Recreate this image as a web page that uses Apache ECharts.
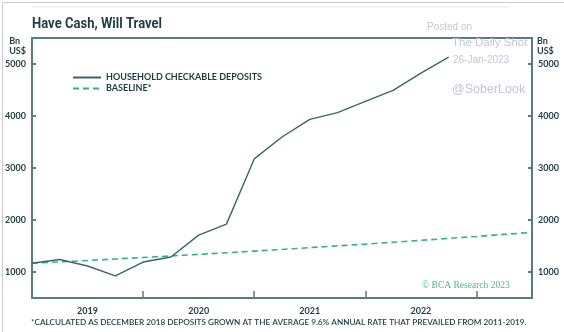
<!DOCTYPE html>
<html>
<head>
<meta charset="utf-8">
<script src="https://cdn.jsdelivr.net/npm/echarts@6/dist/echarts.min.js"></script>
<style>
  html, body { margin: 0; padding: 0; background: #ffffff; }
  #chart { width: 564px; height: 332px; }
</style>
</head>
<body>
<div id="chart"></div>
<script>
// Quarter-end observations, Dec 2018 through Jun 2023 (x = quarter index)
const quarters = ['2018Q4','2019Q1','2019Q2','2019Q3','2019Q4','2020Q1','2020Q2','2020Q3','2020Q4',
                  '2021Q1','2021Q2','2021Q3','2021Q4','2022Q1','2022Q2','2022Q3','2022Q4','2023Q1','2023Q2'];
// Household checkable deposits, Bn US$
const deposits = [1167, 1240, 1115, 925, 1192, 1288, 1710, 1921, 3175,
                  3596, 3936, 4065, 4281, 4493, 4825, 5132];
// Baseline: Dec 2018 deposits grown at 9.6% a year
const baseline = [1167, 1194, 1222, 1250, 1279, 1309, 1339, 1370, 1402,
                  1434, 1468, 1502, 1536, 1572, 1609, 1646, 1684, 1723, 1763];
const yearLabels = ['2019', '2020', '2021', '2022'];
const yTicks = [1000, 2000, 3000, 4000, 5000];

const INK = '#1d3c40';
const AXIS = '#587b7e';
const LINE = '#3a6568';
const GREEN = '#33b08a';
const WATER = '#c4c4d8';

const chart = echarts.init(document.getElementById('chart'), null, { renderer: 'canvas' });

const yAxisBase = {
  type: 'value', min: 500, max: 5500,
  axisLine: { show: false },
  splitLine: { show: false },
  axisTick: { show: true, inside: true, length: 4, customValues: yTicks,
              lineStyle: { color: AXIS, width: 2 } },
  axisLabel: { customValues: yTicks, formatter: v => String(v), color: INK,
               fontFamily: 'Lato', fontWeight: 'bold', fontSize: 9, margin: 6 }
};

chart.setOption({
  animation: false,
  backgroundColor: '#ffffff',
  legend: {
    orient: 'vertical', left: 67, top: 68, itemWidth: 28, itemHeight: 10, itemGap: 2,
    itemStyle: { opacity: 0 },
    textStyle: { color: INK, fontFamily: 'Lato', fontWeight: 'bold', fontSize: 9 },
    data: [
      { name: 'HOUSEHOLD CHECKABLE DEPOSITS' },
      { name: 'BASELINE*' }
    ]
  },
  grid: { left: 32, right: 32, top: 38, bottom: 34, show: true,
          borderColor: AXIS, borderWidth: 2, backgroundColor: 'transparent' },
  xAxis: {
    type: 'value', min: 0, max: 18, interval: 4,
    axisLine: { show: false },
    splitLine: { show: false },
    axisTick: { show: true, inside: true, length: 7, lineStyle: { color: AXIS, width: 1.5 } },
    axisLabel: {
      customValues: [2, 6, 10, 14],
      formatter: v => yearLabels[Math.round((v - 2) / 4)] || '',
      color: INK, fontFamily: 'Lato', fontWeight: 'bold', fontSize: 9, margin: 9
    }
  },
  yAxis: [
    Object.assign({}, yAxisBase, { position: 'left' }),
    Object.assign({}, yAxisBase, { position: 'right' })
  ],
  series: [
    {
      name: 'HOUSEHOLD CHECKABLE DEPOSITS', type: 'line', symbol: 'none',
      lineStyle: { color: LINE, width: 1.4 }, itemStyle: { color: LINE },
      data: deposits.map((v, i) => [i, v]), z: 3
    },
    {
      name: 'BASELINE*', type: 'line', symbol: 'none',
      lineStyle: { color: GREEN, width: 1.6, type: [6, 4] }, itemStyle: { color: GREEN },
      data: baseline.map((v, i) => [i, v]), z: 2
    }
  ],
  graphic: [
    { type: 'rect', left: 0, top: 0, shape: { width: 563, height: 331 },
      style: { fill: 'none', stroke: '#c9c9c9', lineWidth: 1 }, silent: true },
    { type: 'rect', left: 32, top: 6, shape: { width: 476, height: 1.5 },
      style: { fill: '#eeeeee' }, silent: true },
    // chart title, set in a condensed cut
    { type: 'text', x: 32, y: 17, scaleX: 0.9, z: 10,
      style: { text: 'Have Cash, Will Travel', fill: '#1f3d42', font: 'bold 14.5px Roboto' } },
    // unit captions above both value axes
    { type: 'text', right: 538, top: 36,
      style: { text: 'Bn\nUS$', fill: INK, font: 'bold 9px Lato', align: 'right', lineHeight: 10 } },
    { type: 'text', left: 537, top: 36,
      style: { text: 'Bn\nUS$', fill: INK, font: 'bold 9px Lato', align: 'left', lineHeight: 10 } },
    // credit line
    { type: 'text', left: 422, top: 280,
      style: { text: '© BCA Research 2023', fill: '#4bb893', font: '9.5px "Liberation Serif", serif' } },
    // footnote
    { type: 'text', left: 31, top: 318,
      style: { text: '*CALCULATED AS DECEMBER 2018 DEPOSITS GROWN AT THE AVERAGE 9.6% ANNUAL RATE THAT PREVAILED FROM 2011-2019.',
               fill: INK, font: '600 8.2px Lato' } },
    // posting stamp
    { type: 'text', left: 427, top: 22, z: 10,
      style: { text: 'Posted on', fill: WATER, font: '10px "Liberation Sans", Arial, sans-serif' } },
    { type: 'text', left: 452, top: 37, z: 10,
      style: { text: 'The Daily Shot', fill: WATER, font: '11.5px "Liberation Sans", Arial, sans-serif' } },
    { type: 'text', left: 453, top: 55, z: 10,
      style: { text: '26-Jan-2023', fill: WATER, font: '10px "Liberation Sans", Arial, sans-serif' } },
    { type: 'text', left: 452, top: 83, z: 10,
      style: { text: '@SoberLook', fill: WATER, font: '12.5px "Liberation Sans", Arial, sans-serif' } }
  ]
});
</script>
</body>
</html>
